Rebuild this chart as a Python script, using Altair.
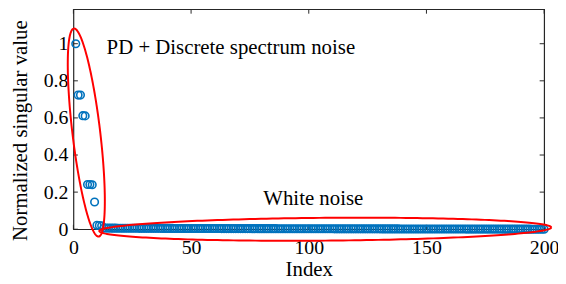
import math
import altair as alt
import pandas as pd

# ---------------- data ----------------
signal_index = [1, 2, 3, 4, 5, 6, 7, 8, 9, 10, 11, 12]
signal_value = [1.0, 0.723, 0.723, 0.612, 0.611, 0.241, 0.241, 0.240, 0.147, 0.021, 0.020, 0.019]

noise_index = list(range(13, 201))
noise_value = [
    0.0062, 0.0060, 0.0059, 0.0058, 0.0057, 0.0056, 0.0055, 0.0054, 0.0054, 0.0053, 0.0052, 0.0052, 0.0051, 0.0050, 0.0050, 0.0049, 0.0049, 0.0048, 0.0048, 0.0047,
    0.0047, 0.0046, 0.0046, 0.0045, 0.0045, 0.0044, 0.0044, 0.0044, 0.0043, 0.0043, 0.0042, 0.0042, 0.0042, 0.0041, 0.0041, 0.0040, 0.0040, 0.0040, 0.0039, 0.0039,
    0.0039, 0.0038, 0.0038, 0.0038, 0.0037, 0.0037, 0.0037, 0.0036, 0.0036, 0.0036, 0.0035, 0.0035, 0.0035, 0.0034, 0.0034, 0.0034, 0.0033, 0.0033, 0.0033, 0.0033,
    0.0032, 0.0032, 0.0032, 0.0031, 0.0031, 0.0031, 0.0031, 0.0030, 0.0030, 0.0030, 0.0029, 0.0029, 0.0029, 0.0029, 0.0028, 0.0028, 0.0028, 0.0028, 0.0027, 0.0027,
    0.0027, 0.0027, 0.0026, 0.0026, 0.0026, 0.0026, 0.0025, 0.0025, 0.0025, 0.0025, 0.0024, 0.0024, 0.0024, 0.0024, 0.0023, 0.0023, 0.0023, 0.0023, 0.0022, 0.0022,
    0.0022, 0.0022, 0.0021, 0.0021, 0.0021, 0.0021, 0.0020, 0.0020, 0.0020, 0.0020, 0.0019, 0.0019, 0.0019, 0.0019, 0.0018, 0.0018, 0.0018, 0.0018, 0.0017, 0.0017,
    0.0017, 0.0017, 0.0016, 0.0016, 0.0016, 0.0016, 0.0015, 0.0015, 0.0015, 0.0015, 0.0014, 0.0014, 0.0014, 0.0014, 0.0013, 0.0013, 0.0013, 0.0013, 0.0012, 0.0012,
    0.0012, 0.0012, 0.0011, 0.0011, 0.0011, 0.0011, 0.0010, 0.0010, 0.0010, 0.0010, 0.0009, 0.0009, 0.0009, 0.0009, 0.0008, 0.0008, 0.0008, 0.0008, 0.0007, 0.0007,
    0.0007, 0.0007, 0.0006, 0.0006, 0.0006, 0.0006, 0.0005, 0.0005, 0.0005, 0.0005, 0.0004, 0.0004, 0.0004, 0.0004, 0.0003, 0.0003, 0.0003, 0.0003, 0.0002, 0.0002,
    0.0002, 0.0002, 0.0001, 0.0001, 0.0001, 0.0001, 0.0000, 0.0000,
]

x_ticks = [0, 50, 100, 150, 200]
y_ticks = [0, 0.2, 0.4, 0.6, 0.8, 1]

annot_text = ["PD + Discrete spectrum noise", "White noise"]
annot_x = [14.1, 80.7]
annot_y = [0.9455, 0.131]

# ellipse annotations: centre (data units), semi-axes (px), tilt (deg)
ell_cx = [5.48, 107.0]
ell_cy = [0.521, 0.0]
ell_a = [105.7, 228.0]
ell_b = [14.0, 11.5]
ell_ang = [96.8, 0.46]

# ---------------- layout ----------------
W, H = 475, 222
X_MAX = 200
PX_PER_Y = 187.2
Y_MAX = H / PX_PER_Y
PX_PER_X = W / X_MAX

FONT = "Liberation Serif"
AXC = "#262626"
BLUE = "#0072BD"

pts = pd.DataFrame({"x": signal_index + noise_index, "y": signal_value + noise_value})

ell_rows = []
for g in range(len(ell_cx)):
    th = math.radians(ell_ang[g])
    for k in range(241):
        t = 2 * math.pi * k / 240
        dx = ell_a[g] * math.cos(t) * math.cos(th) - ell_b[g] * math.sin(t) * math.sin(th)
        dy = ell_a[g] * math.cos(t) * math.sin(th) + ell_b[g] * math.sin(t) * math.cos(th)
        ell_rows.append({"x": ell_cx[g] + dx / PX_PER_X, "y": ell_cy[g] + dy / PX_PER_Y, "o": k, "g": g})
ell = pd.DataFrame(ell_rows)

txt = pd.DataFrame({"x": annot_x, "y": annot_y, "t": annot_text})
xt = pd.DataFrame({"x": x_ticks})
yt = pd.DataFrame({"y": y_ticks})

xscale = alt.Scale(domain=[0, X_MAX], nice=False, zero=False)
yscale = alt.Scale(domain=[0, Y_MAX], nice=False, zero=False)

xaxis = alt.Axis(values=x_ticks, title="Index", format="d", grid=False, domain=False,
                 ticks=False, tickSize=0, labelFont=FONT, labelFontSize=20, labelColor="black",
                 labelBaseline="alphabetic", labelPadding=25, labelFlush=False,
                 titleFont=FONT, titleFontSize=21, titleFontWeight="normal", titleColor="black",
                 titleBaseline="alphabetic", titleY=46.5)
yaxis = alt.Axis(values=y_ticks, title="Normalized singular value", format="~g", grid=False,
                 domain=False, ticks=False, tickSize=0, labelFont=FONT, labelFontSize=20,
                 labelColor="black", labelBaseline="middle", labelPadding=5.5, labelFlush=False,
                 titleFont=FONT, titleFontSize=21, titleFontWeight="normal", titleColor="black",
                 titleBaseline="alphabetic", titleAngle=-90, titleX=-47.5, titleY=122)

X = alt.X("x:Q", scale=xscale, axis=xaxis)
Y = alt.Y("y:Q", scale=yscale, axis=yaxis)

points = alt.Chart(pts).mark_point(shape="circle", filled=False, size=58, strokeWidth=1.6,
                                   color=BLUE, opacity=1).encode(x=X, y=Y)

ellipses = alt.Chart(ell).mark_line(color="#FF0000", strokeWidth=2).encode(
    x=X, y=Y, order="o:Q", detail="g:N")

labels = alt.Chart(txt).mark_text(align="left", baseline="alphabetic", font=FONT,
                                  fontSize=21, color="black").encode(x=X, y=Y, text="t:N")

tick_len = 4.5
tb = alt.Chart(xt).mark_rule(color=AXC, strokeWidth=1).encode(
    x=X, y=alt.value(H), y2=alt.value(H - tick_len))
tt = alt.Chart(xt).mark_rule(color=AXC, strokeWidth=1).encode(
    x=X, y=alt.value(0), y2=alt.value(tick_len))
tl = alt.Chart(yt).mark_rule(color=AXC, strokeWidth=1).encode(
    y=Y, x=alt.value(0), x2=alt.value(tick_len))
tr = alt.Chart(yt).mark_rule(color=AXC, strokeWidth=1).encode(
    y=Y, x=alt.value(W), x2=alt.value(W - tick_len))

chart = alt.layer(tb, tt, tl, tr, points, ellipses, labels).properties(
    width=W, height=H,
    autosize=alt.AutoSizeParams(type="none"),
    padding={"left": 66, "top": 0, "right": 14, "bottom": 50},
    background="white",
).configure_view(stroke=AXC, strokeWidth=1.2).configure_axis(
    labelFont=FONT, titleFont=FONT)

chart.save("out.html", embed_options={"renderer": "svg", "actions": False})
